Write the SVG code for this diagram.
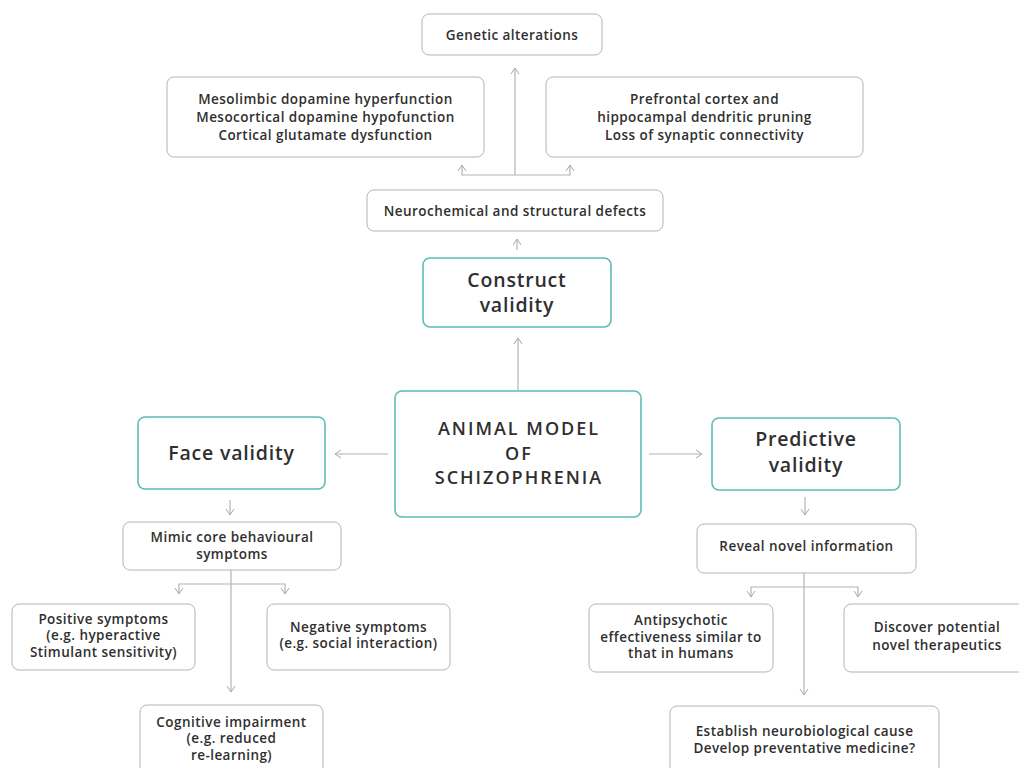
<svg xmlns="http://www.w3.org/2000/svg" width="1019" height="768" viewBox="0 0 1019 768">
<style>
.box{fill:#fff;stroke:#b4b4b4;stroke-width:1}
.tbox{fill:#fff;stroke:#5cbdb3;stroke-width:1.6}
.t{font-family:"Open Sans","Liberation Sans",sans-serif;font-size:13.5px;letter-spacing:0.45px;font-weight:600;fill:#2f2f2f;text-anchor:middle}
.big{font-family:"Open Sans","Liberation Sans",sans-serif;font-size:19.5px;letter-spacing:0.8px;font-weight:600;fill:#2f2f2f;text-anchor:middle}
.cap{font-size:18px;letter-spacing:2px}
.conn path{fill:none;stroke:#b4b4b4;stroke-width:1.2}
.arr{marker-end:url(#ah)}
</style>
<defs>
<marker id="ah" viewBox="0 0 10 10" refX="9" refY="5" markerWidth="10" markerHeight="10" markerUnits="userSpaceOnUse" orient="auto">
<path d="M3,1 L9,5 L3,9" fill="none" stroke="#a8a8a8" stroke-width="1"/>
</marker>
</defs>
<rect width="1019" height="768" fill="#fff"/>
<g id="connectors" class="conn">
<path class="arr" d="M515,175 V68"/>
<path class="arr" d="M515,175 H462 V165"/>
<path class="arr" d="M515,175 H570 V165"/>
<path class="arr" d="M517,250 V239"/>
<path class="arr" d="M518,390 V338"/>
<path class="arr" d="M388,454 H335"/>
<path class="arr" d="M649,454 H702"/>
<path class="arr" d="M230,500 V515"/>
<path class="arr" d="M805,497 V515"/>
<path class="arr" d="M231,570 V692"/>
<path class="arr" d="M231,584 H179 V594"/>
<path class="arr" d="M231,584 H285 V594"/>
<path class="arr" d="M804,573 V695"/>
<path class="arr" d="M804,587 H751 V597"/>
<path class="arr" d="M804,587 H858 V597"/>
</g>
<g id="genetic"><rect class="box" x="422" y="14" width="180" height="41" rx="7"/><text class="t" x="512" y="39.5">Genetic alterations</text></g>
<g id="mesolimbic"><rect class="box" x="167" y="77" width="317" height="80" rx="7"/>
<text class="t" x="325.5" y="103.5">Mesolimbic dopamine hyperfunction</text>
<text class="t" x="325.5" y="121.5">Mesocortical dopamine hypofunction</text>
<text class="t" x="325.5" y="139.5">Cortical glutamate dysfunction</text></g>
<g id="prefrontal"><rect class="box" x="546" y="77" width="317" height="80" rx="7"/>
<text class="t" x="704.5" y="103.5">Prefrontal cortex and</text>
<text class="t" x="704.5" y="121.5">hippocampal dendritic pruning</text>
<text class="t" x="704.5" y="139.5">Loss of synaptic connectivity</text></g>
<g id="neurochemical"><rect class="box" x="367" y="190" width="296" height="41" rx="7"/><text class="t" x="515" y="215.5">Neurochemical and structural defects</text></g>
<g id="construct"><rect class="tbox" x="423" y="258" width="188" height="69" rx="7"/>
<text class="big" x="517" y="286.5">Construct</text><text class="big" x="517" y="312">validity</text></g>
<g id="animal"><rect class="tbox" x="395" y="391" width="246" height="126" rx="7"/>
<text class="big cap" x="519" y="435">ANIMAL MODEL</text>
<text class="big cap" x="519" y="459.5">OF</text>
<text class="big cap" x="519" y="484">SCHIZOPHRENIA</text></g>
<g id="face"><rect class="tbox" x="138" y="417" width="187" height="72" rx="7"/><text class="big" x="231.5" y="460">Face validity</text></g>
<g id="predictive"><rect class="tbox" x="712" y="418" width="188" height="72" rx="7"/>
<text class="big" x="806" y="446">Predictive</text><text class="big" x="806" y="471.5">validity</text></g>
<g id="mimic"><rect class="box" x="123" y="522" width="218" height="48" rx="7"/>
<text class="t" x="232" y="542">Mimic core behavioural</text><text class="t" x="232" y="558.5">symptoms</text></g>
<g id="positive"><rect class="box" x="12" y="604" width="183" height="66" rx="7"/>
<text class="t" x="103.5" y="623.5">Positive symptoms</text>
<text class="t" x="103.5" y="640">(e.g. hyperactive</text>
<text class="t" x="103.5" y="656.5">Stimulant sensitivity)</text></g>
<g id="negative"><rect class="box" x="267" y="604" width="183" height="66" rx="7"/>
<text class="t" x="358.5" y="631.5">Negative symptoms</text>
<text class="t" x="358.5" y="647.5">(e.g. social interaction)</text></g>
<g id="cognitive"><rect class="box" x="140" y="705" width="183" height="80" rx="7"/>
<text class="t" x="231.5" y="726.5">Cognitive impairment</text>
<text class="t" x="231.5" y="743">(e.g. reduced</text>
<text class="t" x="231.5" y="759.5">re-learning)</text></g>
<g id="reveal"><rect class="box" x="697" y="524" width="219" height="49" rx="7"/><text class="t" x="806.5" y="550.5">Reveal novel information</text></g>
<g id="antipsychotic"><rect class="box" x="589" y="604" width="184" height="68" rx="7"/>
<text class="t" x="681" y="624.5">Antipsychotic</text>
<text class="t" x="681" y="641.5">effectiveness similar to</text>
<text class="t" x="681" y="657.5">that in humans</text></g>
<g id="discover"><rect class="box" x="844" y="604" width="186" height="68" rx="7"/>
<text class="t" x="937" y="631.5">Discover potential</text>
<text class="t" x="937" y="649.5">novel therapeutics</text></g>
<g id="establish"><rect class="box" x="670" y="706" width="269" height="80" rx="7"/>
<text class="t" x="804.5" y="735.5">Establish neurobiological cause</text>
<text class="t" x="804.5" y="752.5">Develop preventative medicine?</text></g>
</svg>
